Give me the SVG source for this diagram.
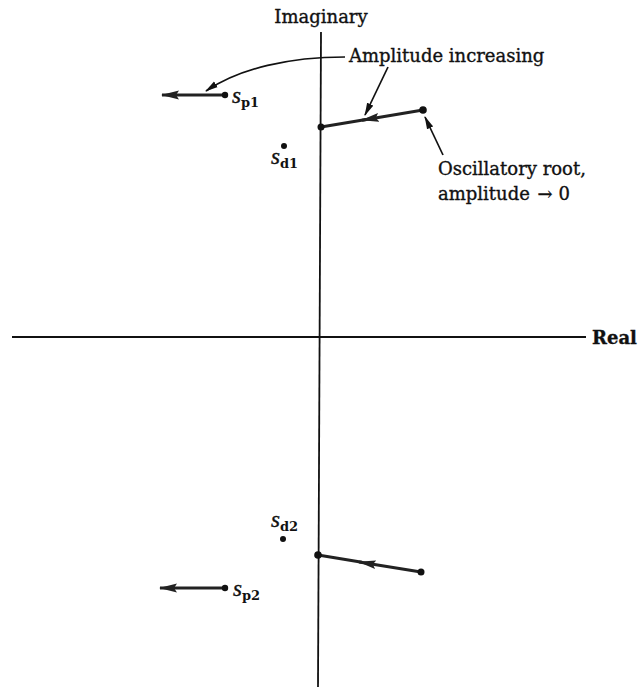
<svg xmlns="http://www.w3.org/2000/svg" width="643" height="687" viewBox="0 0 643 687">
<style>
.ax{stroke:#111;stroke-width:1.8;fill:none}
.ln{stroke:#222;stroke-width:3;fill:none}
.ld{stroke:#111;stroke-width:1.7;fill:none}
.dot{fill:#111}
.t{font-family:"DejaVu Serif","Liberation Serif",serif;font-size:18px;fill:#111;stroke:#111;stroke-width:0.35}
.s{font-family:"Liberation Serif",serif;font-style:italic;font-size:23px;fill:#111;stroke:#111;stroke-width:0.4}
.sub{font-family:"DejaVu Serif",serif;font-weight:bold;font-size:13px;fill:#111}
</style>
<defs>
<marker id="ah" markerWidth="18" markerHeight="10" refX="17" refY="5" orient="auto" markerUnits="userSpaceOnUse">
<path d="M0,0.6 L18,5 L0,9.4 L3,5 z" fill="#222"/>
</marker>
<marker id="as" markerWidth="13" markerHeight="8" refX="12" refY="4" orient="auto" markerUnits="userSpaceOnUse">
<path d="M0,0.6 L13,4 L0,7.4 z" fill="#111"/>
</marker>
</defs>
<g id="axes">
<line class="ax" x1="321" y1="32" x2="318" y2="687"/>
<line class="ax" x1="12" y1="337" x2="586" y2="337"/>
<text class="t" x="321" y="23" text-anchor="middle">Imaginary</text>
<text class="t" x="592" y="344" font-weight="bold" font-size="17">Real</text>
</g>
<g id="connectors">
<line class="ln" x1="225" y1="95" x2="162" y2="95" marker-end="url(#ah)"/>
<line class="ln" x1="225" y1="588" x2="160" y2="588" marker-end="url(#ah)"/>
<line class="ln" x1="423" y1="110" x2="362" y2="120.2" marker-end="url(#ah)"/>
<line class="ln" x1="366" y1="119.5" x2="321" y2="127"/>
<line class="ln" x1="421" y1="572" x2="359" y2="562" marker-end="url(#ah)"/>
<line class="ln" x1="362" y1="562.2" x2="318" y2="555"/>
<path class="ld" d="M345,57 C290,57 240,68 206,91" marker-end="url(#as)"/>
<line class="ld" x1="388" y1="67" x2="365" y2="115" marker-end="url(#as)"/>
<line class="ld" x1="443" y1="155" x2="425" y2="117" marker-end="url(#as)"/>
</g>
<g id="sp1">
<circle class="dot" cx="225" cy="95" r="3.2"/>
<text x="232" y="103"><tspan class="s">s</tspan><tspan class="sub" dy="4">p1</tspan></text>
</g>
<g id="sd1">
<circle class="dot" cx="284" cy="146" r="3"/>
<text x="271" y="164"><tspan class="s">s</tspan><tspan class="sub" dy="4">d1</tspan></text>
</g>
<g id="root1">
<circle class="dot" cx="423" cy="110" r="3.8"/>
<circle class="dot" cx="321" cy="127" r="3.5"/>
</g>
<g id="sd2">
<circle class="dot" cx="283" cy="539" r="3"/>
<text x="271" y="527"><tspan class="s">s</tspan><tspan class="sub" dy="4">d2</tspan></text>
</g>
<g id="root2">
<circle class="dot" cx="318" cy="555" r="3.8"/>
<circle class="dot" cx="421" cy="572" r="3.5"/>
</g>
<g id="sp2">
<circle class="dot" cx="225" cy="588" r="3.2"/>
<text x="233" y="596"><tspan class="s">s</tspan><tspan class="sub" dy="4">p2</tspan></text>
</g>
<g id="label-amp">
<text class="t" x="349" y="62">Amplitude increasing</text>
</g>
<g id="label-osc">
<text class="t" x="438" y="175">Oscillatory root,</text>
<text class="t" x="438" y="200">amplitude <tspan dx="2">→</tspan> 0</text>
</g>
</svg>
